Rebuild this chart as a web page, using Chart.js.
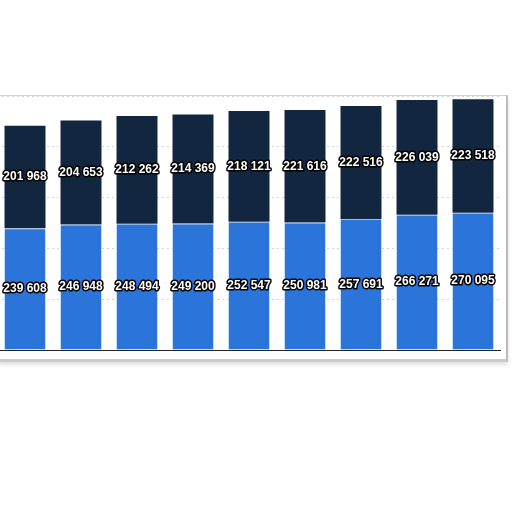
<!DOCTYPE html>
<html>
<head>
<meta charset="utf-8">
<script src="https://cdn.jsdelivr.net/npm/chart.js@4.4.1/dist/chart.umd.min.js"></script>
<style>
  html, body { margin: 0; padding: 0; background: #ffffff; width: 512px; height: 512px; overflow: hidden; }
  #frame { position: absolute; left: -2px; top: 95px; width: 507px; height: 263px;
           border: 1px solid #d2d2d2; border-bottom: 3px solid #cbcbcb; border-right: 2px solid #bdbdbd;
           box-shadow: 0 3px 4px rgba(0,0,0,0.12); background: #ffffff; overflow: hidden; }
  #wrap { position: absolute; left: -2px; top: 0px; width: 504px; height: 262px; }
</style>
</head>
<body>
<div id="frame"><div id="wrap"><canvas id="c"></canvas></div></div>
<script>
const categories = ["2011","2012","2013","2014","2015","2016","2017","2018","2019"];
const seriesBottom = [239608, 246948, 248494, 249200, 252547, 250981, 257691, 266271, 270095];
const seriesTop    = [201968, 204653, 212262, 214369, 218121, 221616, 222516, 226039, 223518];
const yTicks = [0, 100000, 200000, 300000, 400000, 500000];

function fmt(v) { return String(v).replace(/\B(?=(\d{3})+(?!\d))/g, " "); }

const labelPlugin = {
  id: 'segLabels',
  afterDatasetsDraw(chart) {
    const ctx = chart.ctx;
    ctx.save();
    ctx.font = 'bold 12px "Liberation Sans", Arial, sans-serif';
    ctx.textAlign = 'center';
    ctx.textBaseline = 'middle';
    ctx.lineJoin = 'round';
    chart.data.datasets.forEach((ds, di) => {
      const meta = chart.getDatasetMeta(di);
      meta.data.forEach((el, i) => {
        const p = el.getProps(['x', 'y', 'base'], true);
        const cy = (p.y + p.base) / 2;
        const t = fmt(ds.data[i]);
        ctx.lineWidth = 3;
        ctx.strokeStyle = '#000000';
        ctx.strokeText(t, p.x, cy);
        ctx.fillStyle = '#ffffff';
        ctx.fillText(t, p.x, cy);
      });
    });
    ctx.restore();
  }
};

new Chart(document.getElementById('c'), {
  type: 'bar',
  data: {
    labels: categories,
    datasets: [
      { data: seriesBottom, backgroundColor: '#2b74d9', borderColor: '#9cbde9', borderWidth: { top: 1, left: 0, right: 0, bottom: 0 }, borderSkipped: false, barPercentage: 0.732, categoryPercentage: 1.0 },
      { data: seriesTop, backgroundColor: '#13263f', borderWidth: 0, barPercentage: 0.732, categoryPercentage: 1.0 }
    ]
  },
  options: {
    responsive: true,
    maintainAspectRatio: false,
    animation: false,
    layout: { padding: 0 },
    plugins: { legend: { display: false }, tooltip: { enabled: false } },
    scales: {
      x: {
        stacked: true,
        offset: true,
        ticks: { display: false },
        grid: { display: false },
        border: { display: true, color: '#222222', width: 1 }
      },
      y: {
        stacked: true,
        min: 0, max: 500000,
        afterBuildTicks(scale) { scale.ticks = yTicks.map(v => ({ value: v })); },
        ticks: { display: false },
        grid: { display: true, color: '#d4d4d4', lineWidth: 1, drawTicks: false },
        border: { display: false, dash: [2, 3] }
      }
    }
  },
  plugins: [labelPlugin]
});
</script>
</body>
</html>
